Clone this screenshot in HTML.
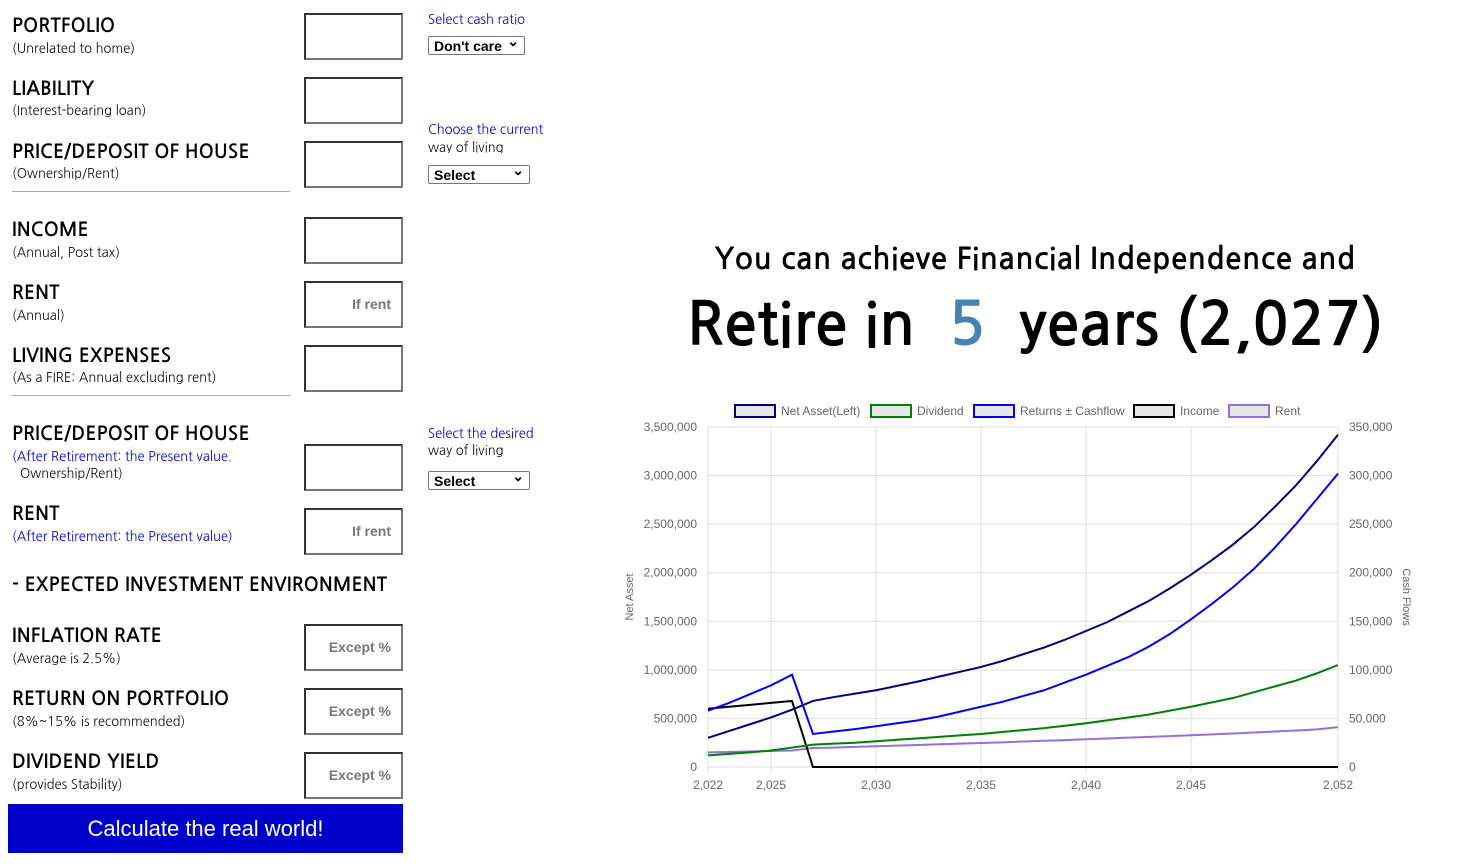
<!DOCTYPE html>
<html><head><meta charset="utf-8"><style>
body{margin:0;width:1465px;height:867px;background:#fff;font-family:"Liberation Sans","NanumGothic",sans-serif;position:relative;overflow:hidden}
.a{position:absolute}
.t{font-size:19px;color:#000;font-family:"NanumGothic","Liberation Sans",sans-serif;font-weight:bold;letter-spacing:0.2px;margin-top:2px}
.s{font-size:13px;color:#111;font-family:"NanumGothic","Liberation Sans",sans-serif}
.b{color:#0000ee}
.in{position:absolute;left:304px;width:95px;height:43px;border:2px solid #333;border-right-color:#777;border-bottom-color:#777;box-sizing:content-box;text-align:right;font-size:14px;font-weight:bold;color:#777;line-height:43px;padding-right:0}
.in span{padding-right:10px}
.sel{position:absolute;left:428px;height:19px;border:1px solid #777;border-radius:2px;font-size:14px;font-weight:bold;line-height:19px;padding-left:5px;box-sizing:border-box}
.sel:after{content:"⌄";position:absolute;right:5px;top:-5px;font-size:14px}
.hr{position:absolute;left:12px;width:278px;height:1px;background:#aaa}
</style></head><body>
<div class="a t" style="left:12px;top:14px">PORTFOLIO</div>
<div class="a s" style="left:12px;top:41px">(Unrelated to home)</div>
<div class="in" style="top:13px"></div>
<div class="a s b" style="left:428px;top:12px">Select cash ratio</div>
<div class="sel" style="top:36px;width:97px">Don't care</div>

<div class="a t" style="left:12px;top:77px">LIABILITY</div>
<div class="a s" style="left:12px;top:103px">(Interest-bearing loan)</div>
<div class="in" style="top:77px"></div>

<div class="a s b" style="left:428px;top:122px">Choose the current</div>
<div class="a s" style="left:428px;top:140px;height:13px;overflow:hidden">way of living</div>
<div class="sel" style="top:165px;width:102px">Select</div>

<div class="a t" style="left:12px;top:140px">PRICE/DEPOSIT OF HOUSE</div>
<div class="a s" style="left:12px;top:166px">(Ownership/Rent)</div>
<div class="in" style="top:141px"></div>
<div class="hr" style="top:191px"></div>

<div class="a t" style="left:12px;top:218px">INCOME</div>
<div class="a s" style="left:12px;top:245px">(Annual, Post tax)</div>
<div class="in" style="top:217px"></div>

<div class="a t" style="left:12px;top:281px">RENT</div>
<div class="a s" style="left:12px;top:308px">(Annual)</div>
<div class="in" style="top:281px"><span>If rent</span></div>

<div class="a t" style="left:12px;top:344px">LIVING EXPENSES</div>
<div class="a s" style="left:12px;top:370px">(As a FIRE: Annual excluding rent)</div>
<div class="in" style="top:345px"></div>
<div class="hr" style="top:395px"></div>

<div class="a t" style="left:12px;top:422px">PRICE/DEPOSIT OF HOUSE</div>
<div class="a s b" style="left:12px;top:449px">(After Retirement: the Present value.</div>
<div class="a s" style="left:20px;top:466px">Ownership/Rent)</div>
<div class="in" style="top:444px"></div>
<div class="a s b" style="left:428px;top:426px">Select the desired</div>
<div class="a s" style="left:428px;top:443px">way of living</div>
<div class="sel" style="top:471px;width:102px">Select</div>

<div class="a t" style="left:12px;top:502px">RENT</div>
<div class="a s b" style="left:12px;top:529px">(After Retirement: the Present value)</div>
<div class="in" style="top:508px"><span>If rent</span></div>

<div class="a t" style="left:12px;top:573px">- EXPECTED INVESTMENT ENVIRONMENT</div>

<div class="a t" style="left:12px;top:624px">INFLATION RATE</div>
<div class="a s" style="left:12px;top:651px">(Average is 2.5%)</div>
<div class="in" style="top:624px"><span>Except %</span></div>

<div class="a t" style="left:12px;top:687px">RETURN ON PORTFOLIO</div>
<div class="a s" style="left:12px;top:714px">(8%~15% is recommended)</div>
<div class="in" style="top:688px"><span>Except %</span></div>

<div class="a t" style="left:12px;top:750px">DIVIDEND YIELD</div>
<div class="a s" style="left:12px;top:777px">(provides Stability)</div>
<div class="in" style="top:752px"><span>Except %</span></div>

<div class="a" style="left:8px;top:804px;width:395px;height:49px;background:#0000cc;color:#fff;font-size:22px;text-align:center;line-height:49px">Calculate the real world!</div>

<div class="a" style="left:620px;top:245px;width:830px;text-align:center;font-family:'NanumGothic','Liberation Sans',sans-serif;font-weight:bold;font-size:30px;letter-spacing:0.5px">You can achieve Financial Independence and</div>
<div class="a" style="left:620px;top:295px;width:830px;text-align:center;font-family:'NanumGothic','Liberation Sans',sans-serif;font-weight:bold;font-size:60px;white-space:nowrap">Retire in <span style="color:#4682b4">&nbsp;5&nbsp;</span> years (2,027)</div>

<svg class="a" style="left:0;top:0" width="1465" height="867" id="chart"></svg>
<script>
const years=[2022,2023,2024,2025,2026,2027,2028,2029,2030,2031,2032,2033,2034,2035,2036,2037,2038,2039,2040,2041,2042,2043,2044,2045,2046,2047,2048,2049,2050,2051,2052];
const netAsset=[300000,370000,440000,510000,590000,680000,720000,755000,790000,835000,880000,930000,980000,1030000,1090000,1160000,1230000,1310000,1400000,1490000,1600000,1710000,1840000,1980000,2130000,2290000,2470000,2680000,2900000,3150000,3420000];
const dividend=[12000,13500,15000,17000,20000,23000,24000,25000,26500,28000,29500,31000,32500,34000,36000,38000,40000,42500,45000,48000,51000,54000,58000,62000,66500,71000,77000,83000,89000,96500,105000];
const returnsCash=[58000,66000,75000,84000,95000,34000,36500,39000,42000,45000,48000,52000,57000,62000,67000,73000,79000,87000,95000,104000,113000,124000,137000,152000,168000,185000,204000,226000,250000,276000,302000];
const income=[60000,62000,64000,66000,68000,0,0,0,0,0,0,0,0,0,0,0,0,0,0,0,0,0,0,0,0,0,0,0,0,0,0];
const rent=[15000,15500,16000,16500,17000,19500,20000,20700,21400,22000,22700,23400,24000,24700,25400,26200,27000,27700,28600,29400,30200,31000,31800,32700,33600,34500,35500,36500,37600,38700,41000];
const leftTicks=[0,500000,1000000,1500000,2000000,2500000,3000000,3500000];
const rightTicks=[0,50000,100000,150000,200000,250000,300000,350000];
const xTicks=[2022,2025,2030,2035,2040,2045,2052];
const svg=document.getElementById('chart');const NS='http://www.w3.org/2000/svg';
const X0=708,X1=1338,Y0=767,Y1=427;
const x=v=>X0+(v-2022)/30*(X1-X0);
const yl=v=>Y0-v/3500000*(Y0-Y1);
const yr=v=>Y0-v/350000*(Y0-Y1);
const fmt=v=>v.toLocaleString('en-US');
function el(t,a){const e=document.createElementNS(NS,t);for(const k in a)e.setAttribute(k,a[k]);svg.appendChild(e);return e;}
leftTicks.forEach((v,i)=>{
 const g=el('line',{x1:X0,x2:X1,y1:yl(v),y2:yl(v),stroke:'#ddd'});
 
 
 const t=el('text',{x:697,y:yl(v)+4,'text-anchor':'end','font-size':12,fill:'#666'});t.textContent=fmt(v);
 
 
 const r=el('text',{x:1349,y:yr(rightTicks[i])+4,'font-size':12,fill:'#666'});r.textContent=fmt(rightTicks[i]);
 
 
});
xTicks.forEach(v=>{
 const g=el('line',{x1:x(v),x2:x(v),y1:Y1,y2:Y0+5,stroke:'#ddd'});
 
 
 const t=el('text',{x:x(v),y:789,'text-anchor':'middle','font-size':12,fill:'#666'});t.textContent=fmt(v);
 
 
});
let at=el('text',{transform:'translate(633,597) rotate(-90)','text-anchor':'middle','font-size':11,fill:'#666'});at.textContent='Net Asset';


at=el('text',{transform:'translate(1403,597) rotate(90)','text-anchor':'middle','font-size':11,fill:'#666'});at.textContent='Cash Flows';


function line(data,fy,color,name){
 const p=el('polyline',{points:data.map((v,i)=>x(years[i])+','+fy(v)).join(' '),fill:'none',stroke:color,'stroke-width':2});
 
 
}
line(rent,yr,'#9370db','rent-line');
line(income,yr,'#000','income-line');
line(dividend,yr,'#008000','dividend-line');
line(returnsCash,yr,'#0000ff','returns-line');
line(netAsset,yl,'#000080','net-asset-line');
const legendLabels=['Net Asset(Left)','Dividend','Returns ± Cashflow','Income','Rent'];
const legendColors=['#000080','#008000','#0000ff','#000','#9370db'];
const legendX=[735,871,974,1134,1229];
legendLabels.forEach((l,i)=>{
 const r=el('rect',{x:legendX[i],y:405,width:40,height:12,fill:'#e6e6e6',stroke:legendColors[i],'stroke-width':2});
 
 
 const t=el('text',{x:legendX[i]+46,y:415,'font-size':12,fill:'#666'});t.textContent=l;
 
 
});
</script>
</body></html>
